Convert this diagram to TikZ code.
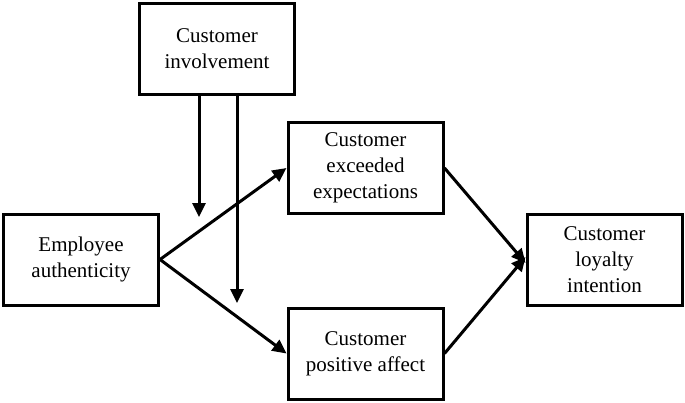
\documentclass[tikz,border=0pt]{standalone}
\usepackage{fontspec}
\setmainfont{Liberation Serif}
\usetikzlibrary{arrows.meta}
\begin{document}
\begin{tikzpicture}[x=1pt,y=-1pt,
  box/.style={draw,line width=3pt,minimum width=155pt,minimum height=91pt,align=center,inner sep=0pt,font=\fontsize{21}{26}\selectfont},
  arr/.style={line width=3pt,-{Triangle[length=14pt,width=13pt]}}]
\useasboundingbox (0,0) rectangle (685,402);
\node[box] (inv) at (217,48.5) {Customer\\involvement};
\node[box] (emp) at (81,259.5) {Employee\\authenticity};
\node[box] (exc) at (365.5,168) {Customer\\exceeded\\expectations};
\node[box] (pos) at (365.5,353.5) {Customer\\positive affect};
\node[box] (loy) at (604.5,260) {Customer\\loyalty\\intention};
\coordinate (t1) at (199,217);
\coordinate (t2) at (237,303);
\draw[arr] (inv.south -| t1) -- (t1);
\draw[arr] (inv.south -| t2) -- (t2);
\draw[arr] (emp.east) -- (exc.west);
\draw[arr] (emp.east) -- (pos.west);
\draw[arr] (exc.east) -- ([yshift=-3pt]loy.west);
\draw[arr] (pos.east) -- ([yshift=3pt]loy.west);
\end{tikzpicture}
\end{document}
